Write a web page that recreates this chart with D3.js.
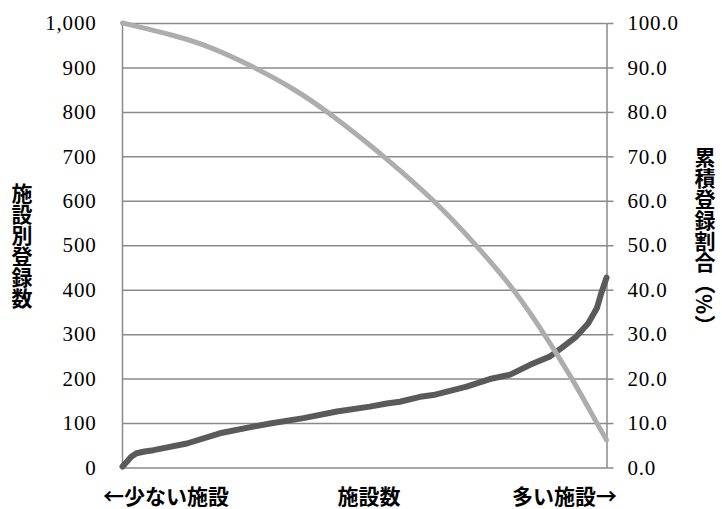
<!DOCTYPE html>
<html>
<head>
<meta charset="utf-8">
<script src="https://cdn.jsdelivr.net/npm/d3@7"></script>
<style>
  body { margin: 0; background: #fff; }
</style>
</head>
<body>
<div id="ChartDiv"></div>
<script>
// facility rank (% of facilities, fewest registrations first) and registrations per facility
const countRank = [0, 0.9, 1.8, 2.9, 4.6, 6.4, 13.3, 20.1, 27.0, 30.5, 37.4, 44.3, 51.1, 54.6, 57.3, 61.5, 64.2,
    71.1, 75.9, 80.1, 84.2, 88.2, 90.6, 93.7, 96.2, 98.0, 99.0, 100];
const countValues = [2, 13, 24, 32, 36, 39, 54, 77, 92, 99, 111, 126, 137, 144, 148, 159, 163,
    182, 199, 209, 231, 249, 268, 294, 324, 358, 395, 427];

// cumulative registration share (%)
const shareRank = [0, 11.2, 18.1, 27.0, 35.3, 42.2, 50.5, 54.2, 64.6, 73.2, 81.1, 87.3, 93.1, 98.0, 100];
const shareValues = [100, 97.1, 94.7, 90.2, 85.3, 80.2, 73.1, 69.8, 60.0, 49.9, 39.9, 29.8, 19.7, 10.0, 6.2];

const leftTicks = [0, 100, 200, 300, 400, 500, 600, 700, 800, 900, 1000];
const rightTicks = [0, 10, 20, 30, 40, 50, 60, 70, 80, 90, 100];

const leftTitle = "施設別登録数";
const rightTitle = "累積登録割合（%）";
const bottomLeft = "←少ない施設";
const bottomMid = "施設数";
const bottomRight = "多い施設→";

const numFont = "'Liberation Serif', serif";
const jpFont = "'Noto Sans CJK JP', sans-serif";

function styleNum(sel) {
    sel.style("font-family", numFont)
        .style("font-size", "21px")
        .style("letter-spacing", "0.8px")
        .attr("fill", "#000");
}

function styleJp(sel) {
    sel.style("font-family", jpFont)
        .style("font-size", "21px")
        .style("font-weight", "bold")
        .attr("fill", "#000");
}

function createChart() {
    const W = 722, H = 509;
    const m = {left: 122.5, right: 606.5, top: 23, bottom: 467.5};

    const svg = d3.select("#ChartDiv").append("svg")
        .attr("width", W)
        .attr("height", H);

    const x = d3.scaleLinear().domain([0, 100]).range([m.left, m.right]);
    const yL = d3.scaleLinear().domain([0, 1000]).range([m.bottom, m.top]);
    const yR = d3.scaleLinear().domain([0, 100]).range([m.bottom, m.top]);

    // grid + left labels
    const gL = svg.append("g")
        .attr("transform", `translate(${m.left},0)`)
        .call(d3.axisLeft(yL).tickValues(leftTicks).tickFormat(d3.format(","))
            .tickSize(-(m.right - m.left)).tickPadding(26));
    gL.select(".domain").remove();
    gL.selectAll("line").attr("stroke", "#8a8a8a").attr("stroke-width", 1.5);
    gL.selectAll("text").call(styleNum);

    // left axis line
    svg.append("line")
        .attr("x1", m.left).attr("x2", m.left)
        .attr("y1", m.top).attr("y2", m.bottom)
        .attr("stroke", "#8a8a8a").attr("stroke-width", 1.5);

    // right axis
    const gR = svg.append("g")
        .attr("transform", `translate(${m.right},0)`)
        .call(d3.axisRight(yR).tickValues(rightTicks).tickFormat(d3.format(".1f"))
            .tickSize(7).tickSizeOuter(0).tickPadding(14));
    gR.select(".domain").attr("stroke", "#8a8a8a").attr("stroke-width", 1.5);
    gR.selectAll("line").attr("stroke", "#8a8a8a").attr("stroke-width", 1.5);
    gR.selectAll("text").call(styleNum);

    // registrations per facility
    const countLine = d3.line()
        .x((d, i) => x(countRank[i]))
        .y(d => yL(d));
    svg.append("path")
        .datum(countValues)
        .attr("fill", "none")
        .attr("stroke", "#5a5a5a")
        .attr("stroke-width", 6)
        .attr("stroke-linejoin", "round")
        .attr("stroke-linecap", "round")
        .attr("d", countLine);

    // cumulative share (smoothed)
    const shareLine = d3.line()
        .x((d, i) => x(shareRank[i]))
        .y(d => yR(d))
        .curve(d3.curveBasis);
    svg.append("path")
        .datum(shareValues)
        .attr("fill", "none")
        .attr("stroke", "#adadad")
        .attr("stroke-width", 5)
        .attr("stroke-linecap", "round")
        .attr("d", shareLine);

    // vertical titles
    svg.append("text")
        .call(styleJp)
        .attr("x", 22).attr("y", 245.5)
        .attr("text-anchor", "middle")
        .style("writing-mode", "vertical-rl")
        .text(leftTitle);

    svg.append("text")
        .call(styleJp)
        .attr("x", 705).attr("y", 241)
        .attr("text-anchor", "middle")
        .style("writing-mode", "vertical-rl")
        .text(rightTitle);

    // bottom labels
    svg.append("text").call(styleJp)
        .attr("x", 103).attr("y", 495)
        .attr("dominant-baseline", "central")
        .text(bottomLeft);
    svg.append("text").call(styleJp)
        .attr("x", 369).attr("y", 495)
        .attr("text-anchor", "middle")
        .attr("dominant-baseline", "central")
        .text(bottomMid);
    svg.append("text").call(styleJp)
        .attr("x", 617).attr("y", 495)
        .attr("text-anchor", "end")
        .attr("dominant-baseline", "central")
        .text(bottomRight);
}

createChart();
</script>
</body>
</html>
